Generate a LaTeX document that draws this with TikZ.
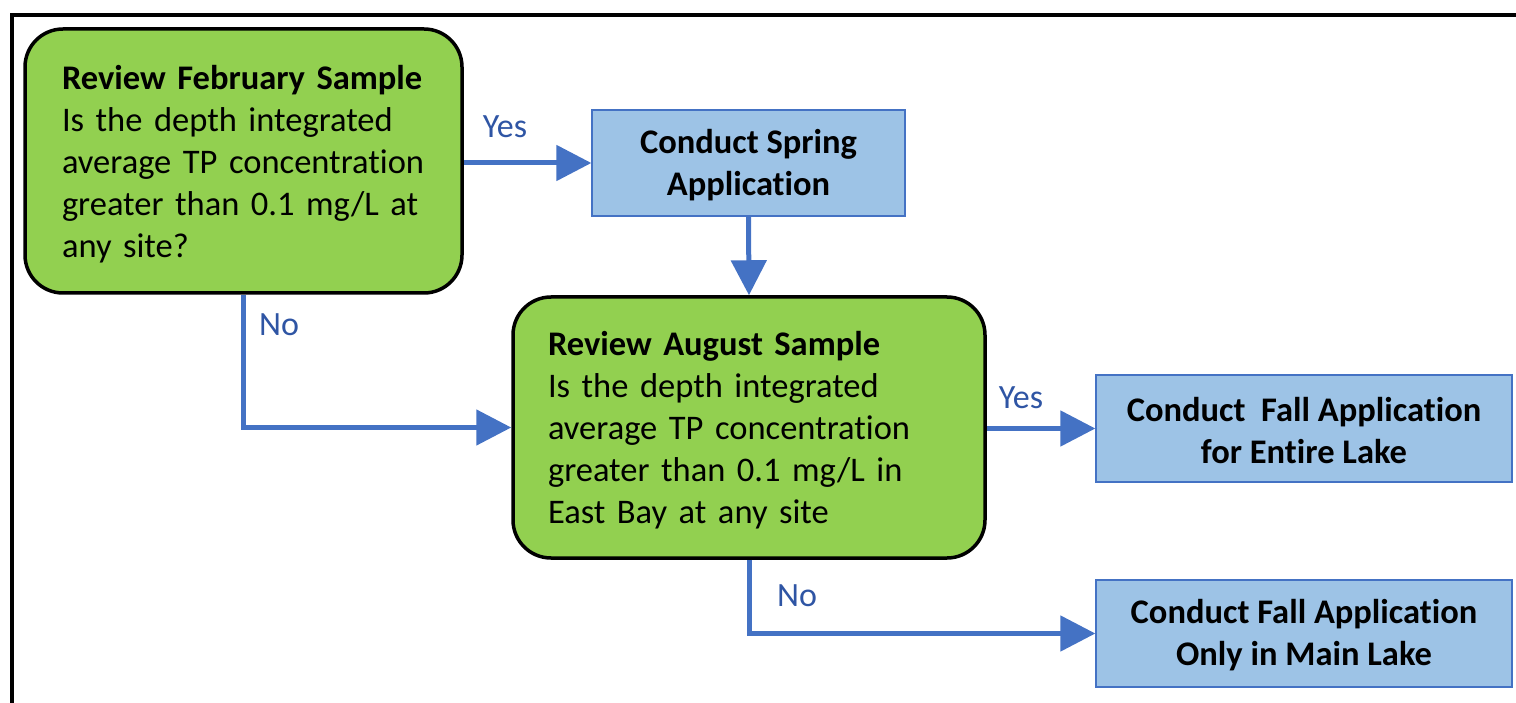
\documentclass[tikz,border=0pt]{standalone}
\usepackage{fontspec}
\setmainfont{Carlito}[Ligatures=NoCommon]
\usetikzlibrary{arrows.meta,positioning}
\definecolor{dgreen}{HTML}{92D050}
\definecolor{lblue}{HTML}{9DC3E6}
\definecolor{mblue}{HTML}{4472C4}
\definecolor{tblue}{HTML}{2F55A4}
\tikzset{
  decision/.style={draw=black, line width=3.5pt, fill=dgreen, rounded corners=38pt,
    align=left, inner xsep=0pt, inner ysep=0pt, font=\fontsize{34.5}{42}\selectfont},
  action/.style={draw=mblue, line width=1.3pt, fill=lblue, align=center,
    inner sep=0pt, font=\fontsize{34.5}{42}\selectfont\bfseries},
  arr/.style={draw=mblue, line width=5pt, -{Triangle[length=35pt,width=35pt]}},
  lab/.style={text=tblue, font=\fontsize{34}{40}\selectfont, inner sep=0pt},
  frameline/.style={draw=black, line width=3.5pt}
}
\begin{document}
\begin{tikzpicture}[x=1pt,y=-1pt]
\useasboundingbox (0,0) rectangle (1516,703);
\coordinate (ftl) at (12,15);
\coordinate (ftr) at (1516,15);
\coordinate (fbl) at (12,703);
\draw[frameline] (ftr) -- (ftl) -- (fbl);

\node[decision, minimum width=437pt, minimum height=264pt, text width=437pt] (f) at (243.5,161)
  {\hspace*{37pt}\raisebox{-3pt}[\height][\depth]{\parbox[c]{395pt}{\raggedright\textbf{Review February Sample}\\Is the depth integrated\\average TP concentration\\greater than 0.1 mg/L at\\any site?}}};
\node[decision, minimum width=472pt, minimum height=261pt, text width=472pt] (a) at (749,427.5)
  {\hspace*{35pt}\raisebox{-3pt}[\height][\depth]{\parbox[c]{430pt}{\raggedright\textbf{Review August Sample}\\Is the depth integrated\\average TP concentration\\greater than 0.1 mg/L in\\East Bay at any site}}};

\node[action, minimum width=313pt, minimum height=106pt] (s) at (748.5,163)
  {\raisebox{-2pt}[\height][\depth]{\parbox[c]{300pt}{\centering Conduct Spring\\Application}}};
\node[action, minimum width=416pt, minimum height=107pt] (e) at (1304,428.5)
  {\raisebox{-2pt}[\height][\depth]{\parbox[c]{400pt}{\centering Conduct\ \ Fall Application\\for Entire Lake}}};
\node[action, minimum width=416pt, minimum height=107pt] (m) at (1304,633.5)
  {\raisebox{-2pt}[\height][\depth]{\parbox[c]{400pt}{\centering Conduct Fall Application\\Only in Main Lake}}};

\draw[arr] (f.east |- s.west) -- (s.west);
\draw[arr] (s.south) -- (a.north);
\draw[arr] (f.south) |- (a.west);
\draw[arr] (a.east |- e.west) -- (e.west);
\draw[arr] (a.south) |- (m.west);

\node[lab] (y1) at (505,127) {Yes};
\node[lab] (n1) at (279,325) {No};
\node[lab] (y2) at (1021,398) {Yes};
\node[lab] (n2) at (797,596) {No};
\end{tikzpicture}
\end{document}
